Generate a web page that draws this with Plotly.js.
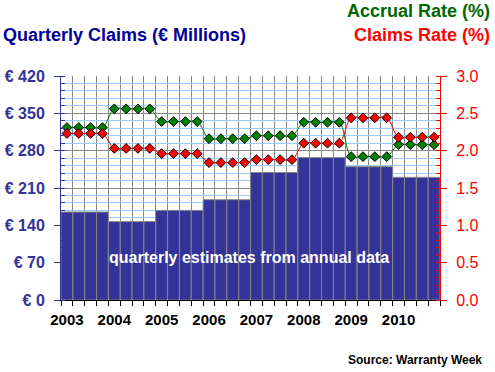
<!DOCTYPE html>
<html>
<head>
<meta charset="utf-8">
<script src="https://cdn.plot.ly/plotly-3.0.1.min.js"></script>
<style>html,body{margin:0;padding:0;background:#fff;}#chart{width:495px;height:372px;}</style>
</head>
<body>
<div id="chart"></div>
<script>
const years = ['2003','2004','2005','2006','2007','2008','2009','2010'];
const claimsEUR = [165, 147, 168, 188, 239, 267, 250, 230];
const accrualRate = [2.31, 2.56, 2.39, 2.16, 2.20, 2.38, 1.92, 2.08];
const claimsRate = [2.23, 2.03, 1.96, 1.84, 1.88, 2.10, 2.44, 2.18];
const leftTicks = [0, 70, 140, 210, 280, 350, 420];
const leftTickText = ['€ 0', '€ 70', '€ 140', '€ 210', '€ 280', '€ 350', '€ 420'];

const q = [], bars = [], acc = [], clm = [];
years.forEach((y, i) => {
  for (let k = 0; k < 4; k++) {
    q.push(i * 4 + k);
    bars.push(claimsEUR[i]);
    acc.push(accrualRate[i]);
    clm.push(claimsRate[i]);
  }
});
const tickPos = years.map((y, i) => i * 4);

const fontF = 'Liberation Sans, Arial, sans-serif';
const data = [
  {type: 'bar', x: q, y: bars, width: 1, marker: {color: '#333399', line: {color: '#888888', width: 1}}, hoverinfo: 'skip'},
  {type: 'scatter', mode: 'lines+markers', x: q, y: acc, yaxis: 'y2',
   line: {color: '#008000', width: 1, shape: 'spline', smoothing: 1},
   marker: {symbol: 'diamond', size: 7.5, color: '#008000', line: {color: '#000', width: 1}}},
  {type: 'scatter', mode: 'lines+markers', x: q, y: clm, yaxis: 'y2',
   line: {color: '#ff0000', width: 1, shape: 'spline', smoothing: 1},
   marker: {symbol: 'diamond', size: 7.5, color: '#ff0000', line: {color: '#000', width: 1}}}
];

const layout = {
  width: 495, height: 372,
  margin: {l: 61, r: 55, t: 76, b: 72, pad: 0},
  paper_bgcolor: '#fff', plot_bgcolor: '#fff',
  showlegend: false, bargap: 0,
  font: {family: fontF},
  xaxis: {
    range: [-0.5, 31.5], tickvals: tickPos, ticktext: years, ticks: '',
    tickfont: {family: fontF, size: 15, color: '#000', weight: 'bold'},
    showline: true, linecolor: '#000', linewidth: 1, showgrid: false, zeroline: false,
    ticklabelstandoff: 6,
    minor: {tick0: -0.5, dtick: 1, ticks: 'outside', ticklen: 5, tickcolor: '#000', tickwidth: 1, showgrid: true, gridcolor: '#888888', gridwidth: 1}
  },
  yaxis: {
    range: [0, 420], tickvals: leftTicks, ticktext: leftTickText,
    ticks: 'outside', ticklen: 6, tickcolor: '#333399', tickwidth: 1,
    tickfont: {family: fontF, size: 16, color: '#333399', weight: 'bold'},
    showline: true, linecolor: '#333399', linewidth: 1,
    showgrid: true, gridcolor: '#888888', gridwidth: 1, zeroline: false,
    ticklabelstandoff: 6,
    minor: {dtick: 14, ticks: 'inside', ticklen: 4, tickcolor: '#333399', showgrid: true, gridcolor: '#99ccff', gridwidth: 1}
  },
  yaxis2: {
    range: [0, 3], overlaying: 'y', side: 'right', tickvals: [0,0.5,1,1.5,2,2.5,3], tickformat: '.1f', ticksuffix: '%',
    ticks: 'outside', ticklen: 6, tickcolor: '#ff0000', tickwidth: 1,
    tickfont: {family: fontF, size: 16, color: '#ff0000'},
    showline: true, linecolor: '#ff0000', linewidth: 1, showgrid: false, zeroline: false,
    ticklabelstandoff: 6,
    minor: {dtick: 0.1, ticks: 'inside', ticklen: 4, tickcolor: '#ff0000', showgrid: false}
  },
  annotations: [
    {text: 'Quarterly Claims (€ Millions)', xref: 'paper', yref: 'paper', x: -60/379, y: 1 + 41/224, xanchor: 'left', yanchor: 'middle', showarrow: false,
     font: {family: fontF, size: 18, color: '#000099', weight: 'bold'}},
    {text: 'Accrual Rate (%)', xref: 'paper', yref: 'paper', x: 1 + 52/379, y: 1 + 65/224, xanchor: 'right', yanchor: 'middle', showarrow: false,
     font: {family: fontF, size: 18, color: '#006600', weight: 'bold'}},
    {text: 'Claims Rate (%)', xref: 'paper', yref: 'paper', x: 1 + 52/379, y: 1 + 41/224, xanchor: 'right', yanchor: 'middle', showarrow: false,
     font: {family: fontF, size: 18, color: '#ff0000', weight: 'bold'}},
    {text: 'quarterly estimates from annual data', xref: 'paper', yref: 'paper', x: (249-61)/379, y: (300-257)/224, xanchor: 'center', yanchor: 'middle', showarrow: false,
     font: {family: fontF, size: 16, color: '#ffffff', weight: 'bold'}},
    {text: 'Source: Warranty Week', xref: 'paper', yref: 'paper', x: 1 + 44/379, y: -(360-300)/224, xanchor: 'right', yanchor: 'middle', showarrow: false,
     font: {family: fontF, size: 12, color: '#000', weight: 'bold'}}
  ]
};

Plotly.newPlot('chart', data, layout, {staticPlot: true, displayModeBar: false});
</script>
</body>
</html>
